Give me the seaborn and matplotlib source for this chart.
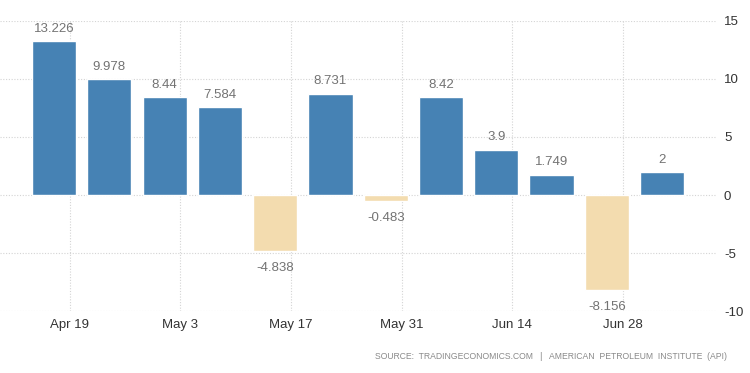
import matplotlib
matplotlib.use("Agg")
import matplotlib.pyplot as plt
import matplotlib.dates as mdates
import pandas as pd
import seaborn as sns

# weekly API crude stock changes (million barrels)
weeks = pd.date_range("2021-04-17", periods=12, freq="7D")
changes = [13.226, 9.978, 8.44, 7.584, -4.838, 8.731, -0.483, 8.42, 3.9, 1.749, -8.156, 2]
value_labels = ["13.226", "9.978", "8.44", "7.584", "-4.838", "8.731", "-0.483",
                "8.42", "3.9", "1.749", "-8.156", "2"]
tick_dates = pd.to_datetime(["2021-04-19", "2021-05-03", "2021-05-17",
                             "2021-05-31", "2021-06-14", "2021-06-28"])
tick_labels = ["Apr 19", "May 3", "May 17", "May 31", "Jun 14", "Jun 28"]
y_ticks = [-10, -5, 0, 5, 10, 15]
source = "SOURCE:  TRADINGECONOMICS.COM   |   AMERICAN  PETROLEUM  INSTITUTE  (API)"

df = pd.DataFrame({"x": mdates.date2num(weeks), "value": changes})
df["sign"] = ["up" if v >= 0 else "down" for v in changes]

sns.set_style("white")
plt.rcParams["font.family"] = ["Liberation Sans", "DejaVu Sans"]
plt.rcParams["axes.unicode_minus"] = False

fig = plt.figure(figsize=(7.5, 3.73), dpi=100)
ax = fig.add_axes([0.0, 0.166, 0.956, 0.778])
sns.barplot(data=df, x="x", y="value", hue="sign", native_scale=True,
            palette={"up": "#4682B4", "down": "#F3DCAF"}, width=0.8,
            dodge=False, legend=False, saturation=1, ax=ax)

for xv, v, lab in zip(df["x"], changes, value_labels):
    if v >= 0:
        ax.annotate(lab, (xv, v), xytext=(0, 4.5), textcoords="offset points",
                    ha="center", va="bottom", fontsize=9.5, color="#737373")
    else:
        ax.annotate(lab, (xv, v), xytext=(0, -8), textcoords="offset points",
                    ha="center", va="top", fontsize=9.5, color="#737373")

ax.set_xlim(df["x"].iloc[0] - 6.85, df["x"].iloc[-1] + 6.95)
ax.set_ylim(-10, 15)
ax.set_xticks(mdates.date2num(tick_dates))
ax.set_xticklabels(tick_labels)
ax.set_yticks(y_ticks)
ax.yaxis.tick_right()
ax.tick_params(axis="both", length=0, labelsize=9.5, colors="#333333")
ax.tick_params(axis="y", pad=5)
ax.tick_params(axis="x", pad=6)
ax.set_xlabel("")
ax.set_ylabel("")
for s in ax.spines.values():
    s.set_visible(False)
ax.grid(True, which="major", axis="both", color="#d4d4d4", linestyle=(0, (1, 1.5)), linewidth=0.8)
ax.set_axisbelow(True)

fig.text(0.969, 0.043, source, ha="right", va="center", fontsize=6.2, color="#8a8a8a")

fig.savefig("out.png", dpi=100)
